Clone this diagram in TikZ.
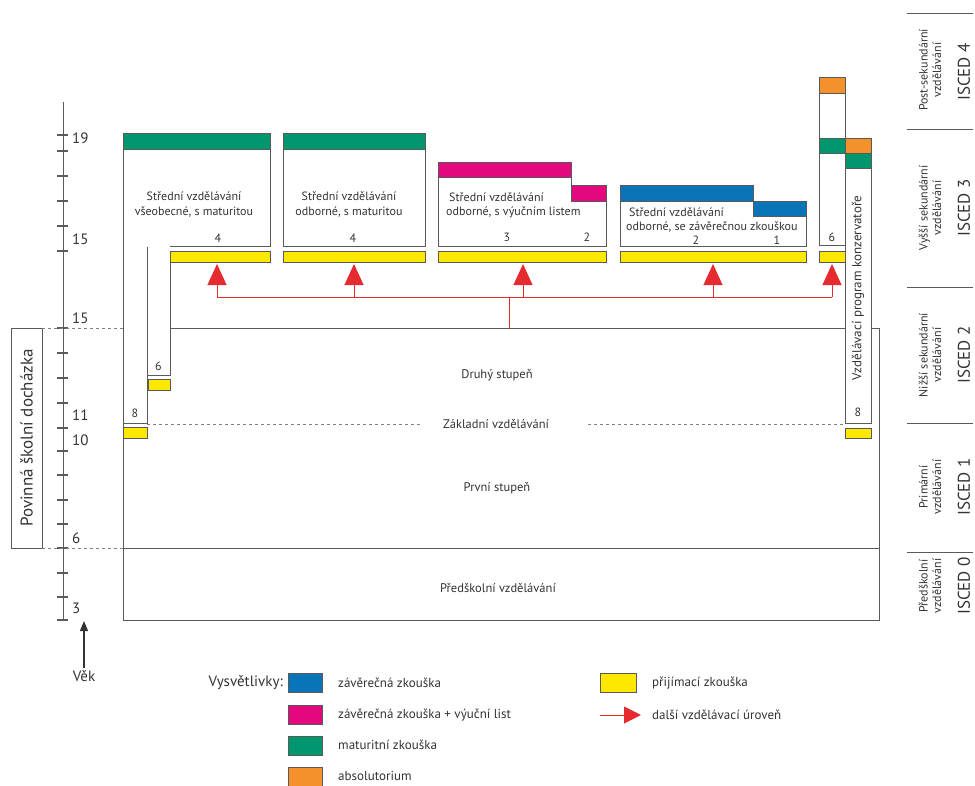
\documentclass[tikz,border=0pt]{standalone}
\usepackage{fontspec}
\setmainfont{PT Sans}
\usetikzlibrary{arrows.meta}
\definecolor{lgray}{HTML}{5A5A5A}
\definecolor{tgray}{HTML}{333333}
\definecolor{cgreen}{HTML}{00976E}
\definecolor{cpink}{HTML}{E4087E}
\definecolor{cblue}{HTML}{0A74B8}
\definecolor{corange}{HTML}{F5912A}
\definecolor{cyellow}{HTML}{FFE800}
\definecolor{cred}{HTML}{E52A30}
\begin{document}
\begin{tikzpicture}[x=1pt,y=-1pt,
  frame/.style={draw=lgray,line width=1pt},
  colbar/.style={draw=black!65,line width=0.6pt},
  dashln/.style={draw=gray,line width=0.7pt,dash pattern=on 3pt off 3pt},
  txt/.style={text=tgray,font=\fontsize{12}{14.5}\selectfont,inner sep=0pt},
  midtxt/.style={text=tgray,font=\fontsize{12.5}{15}\selectfont,inner sep=0pt},
  legtxt/.style={text=tgray,font=\fontsize{13}{15}\selectfont,inner sep=0pt,anchor=west},
  small/.style={text=tgray,font=\fontsize{12}{13.5}\selectfont,inner sep=0pt,align=center},
  big/.style={text=tgray,font=\fontsize{15}{17}\selectfont,inner sep=0pt},
  isced/.style={text=tgray,font=\fontsize{17}{19}\selectfont,inner sep=0pt,rotate=90},
  redline/.style={draw=cred,line width=1pt},
  redarrow/.style={draw=cred,line width=1pt,-{Triangle[width=19pt,length=21pt]}},
  axtick/.style={draw=lgray,line width=1.2pt}
]
\useasboundingbox (0,0) rectangle (975,785);

% ---------- age axis ----------
\coordinate (axtop) at (63,102);
\coordinate (axbot) at (63,620);
\draw[draw=lgray,line width=1pt] (axtop) -- (axbot);
\foreach \t in {135,151,176,201,226,251,328,353,378,403,428,451,475,500,524,548,573,597,620}
  \draw[axtick] (57,\t) -- (68,\t);
\node[big,anchor=west] (a19) at (72,138) {19};
\node[big,anchor=west] (a15a) at (72,239) {15};
\node[big,anchor=west] (a15b) at (72,318) {15};
\node[big,anchor=west] (a11) at (72,415) {11};
\node[big,anchor=west] (a10) at (72,440) {10};
\node[big,anchor=west] (a6) at (72,538) {6};
\node[big,anchor=west] (a3) at (72,608) {3};
\node[big] (vek) at (84,676) {Věk};
\coordinate (vekarr) at (84,621);
\draw[draw=black!80,line width=1.2pt,-{Triangle[width=8pt,length=10pt]}] (vek.north) ++(0,-2) -- (vekarr);

% compulsory schooling
\node[draw=lgray,line width=1pt,minimum width=31pt,minimum height=220pt,inner sep=0pt] (pov) at (26.5,438) {};
\node[text=tgray,inner sep=0pt,rotate=90,font=\fontsize{17}{19}\selectfont] at (pov.center) {Povinná školní docházka};
\draw[dashln] (42,328) -- (123,328);
\draw[dashln] (42,548) -- (123,548);

% ---------- basic school block ----------
\draw[frame] (170,328) -- (879,328) -- (879,620) -- (123,620) -- (123,133);
\draw[frame] (123,548) -- (879,548);
\node[midtxt] (druhy) at (497,375) {Druhý stupeň};
\node[midtxt] (zakl) at (496,424) {Základní vzdělávání};
\node[midtxt] (prvni) at (497,488) {První stupeň};
\node[midtxt] (pred) at (498,588) {Předškolní vzdělávání};
\draw[dashln] (147,424) -- (420,424);
\draw[dashln] (588,424) -- (845,424);

% ---------- general upper secondary (gymnasium) ----------
\draw[frame] (123,133) -- (270,133) -- (270,246) -- (170,246);
\draw[colbar,fill=cgreen] (123,133) rectangle (270,149);
\draw[frame] (170,251) -- (170,375) -- (147,375);
\draw[frame] (147,247) -- (147,423) -- (123,423);
\node[txt] (g8) at (135,413) {8};
\node[txt] (g6) at (158.5,366) {6};
\draw[colbar,fill=cyellow] (123,427) rectangle (147,438);
\draw[colbar,fill=cyellow] (148,379) rectangle (170,390);
\node[txt,align=center] (gtext) at (194,204.5) {Střední vzdělávání\\všeobecné, s maturitou};
\node[txt] (g4) at (218,238) {4};
\draw[colbar,fill=cyellow] (170,251) rectangle (270,262);

% ---------- vocational with maturita ----------
\draw[frame] (283,133) rectangle (425,246);
\draw[colbar,fill=cgreen] (283,133) rectangle (425,149);
\node[txt,align=center] (otext) at (349,204.5) {Střední vzdělávání\\odborné, s maturitou};
\node[txt] (o4) at (353,238) {4};
\draw[colbar,fill=cyellow] (283,251) rectangle (425,262);

% ---------- vocational with apprenticeship certificate ----------
\draw[frame] (438,162) -- (571,162) -- (571,185) -- (606,185) -- (606,246) -- (438,246) -- cycle;
\draw[colbar,fill=cpink] (438,162) rectangle (571,177);
\draw[colbar,fill=cpink] (571,185) rectangle (606,201);
\node[txt,anchor=west] (vtext1) at (449,197) {Střední vzdělávání};
\node[txt,anchor=west] (vtext2) at (446,212) {odborné, s výučním listem};
\node[txt] (v3) at (507,237) {3};
\node[txt] (v2) at (587,237) {2};
\draw[colbar,fill=cyellow] (438,251) rectangle (606,262);

% ---------- vocational with final exam ----------
\draw[frame] (620,185) -- (753,185) -- (753,201) -- (806,201) -- (806,246) -- (620,246) -- cycle;
\draw[colbar,fill=cblue] (620,185) rectangle (753,201);
\draw[colbar,fill=cblue] (753,201) rectangle (806,216);
\node[txt,anchor=west] (ztext1) at (629,212) {Střední vzdělávání};
\node[txt,anchor=west] (ztext2) at (626,226.5) {odborné, se závěrečnou zkouškou};
\node[txt] (z2) at (696,240) {2};
\node[txt] (z1) at (777,240) {1};
\draw[colbar,fill=cyellow] (620,251) rectangle (806,262);

% ---------- conservatory ----------
\draw[frame,fill=white] (819,77) rectangle (845,245);
\draw[colbar,fill=corange] (819,77) rectangle (845,93);
\draw[colbar,fill=cgreen] (819,138) rectangle (845,153);
\node[txt] (k6) at (832,237) {6};
\draw[colbar,fill=cyellow] (819,251) rectangle (845,262);

\draw[frame,fill=white] (845,138) rectangle (871,423);
\draw[colbar,fill=corange] (845,138) rectangle (871,153);
\draw[colbar,fill=cgreen] (845,153) rectangle (871,168);
\node[txt,rotate=90,font=\fontsize{13}{15}\selectfont] (ktext) at (858,288) {Vzdělávací program konzervatoře};
\node[txt] (k8) at (858,412) {8};
\draw[colbar,fill=cyellow] (845,428) rectangle (871,438);

% ---------- red "next level" connectors ----------
\coordinate (r1) at (217,297);
\coordinate (r2) at (354,297);
\coordinate (r3) at (523,297);
\coordinate (r4) at (713,297);
\coordinate (r5) at (832,297);
\coordinate (rs) at (509,297);
\coordinate (rb) at (509,328);
\coordinate (t1) at (217,264);
\coordinate (t2) at (354,264);
\coordinate (t3) at (523,264);
\coordinate (t4) at (713,264);
\coordinate (t5) at (832,264);
\draw[redline] (r1) -- (r5);
\draw[redline] (rb) -- (rs);
\foreach \i in {1,...,5} \draw[redarrow] (r\i) -- (t\i);

% ---------- ISCED column ----------
\foreach \yy in {13,129,287,423,552} \draw[draw=lgray,line width=0.8pt] (907,\yy) -- (973,\yy);
\node[small,rotate=90] (i4a) at (930,70) {Post-sekundární\\vzdělávání};
\node[isced] (i4) at (964,72) {ISCED 4};
\node[small,rotate=90] (i3a) at (930,208) {Vyšší sekundární\\vzdělávání};
\node[isced] (i3) at (964,208) {ISCED 3};
\node[small,rotate=90] (i2a) at (930,355) {Nižší sekundární\\vzdělávání};
\node[isced] (i2) at (964,355) {ISCED 2};
\node[small,rotate=90] (i1a) at (930,487) {Primární\\vzdělávání};
\node[isced] (i1) at (964,487) {ISCED 1};
\node[small,rotate=90] (i0a) at (930,586) {Předškolní\\vzdělávání};
\node[isced] (i0) at (964,586) {ISCED 0};

% ---------- legend ----------
\node[text=tgray,inner sep=0pt,anchor=east,font=\fontsize{15}{17}\selectfont] (leg) at (283,683) {Vysvětlivky:};
\draw[colbar,fill=cblue] (288,673) rectangle (322,692);
\node[legtxt] (l1) at (338,683) {závěrečná zkouška};
\draw[colbar,fill=cpink] (288,705) rectangle (322,724);
\node[legtxt] (l2) at (338,715) {závěrečná zkouška + výuční list};
\draw[colbar,fill=cgreen] (288,736) rectangle (322,755);
\node[legtxt] (l3) at (338,745) {maturitní zkouška};
\draw[colbar,fill=corange] (288,767) rectangle (322,786);
\node[legtxt] (l4) at (338,776) {absolutorium};
\draw[colbar,fill=cyellow] (600,673) rectangle (636,692);
\node[legtxt] (l5) at (652,683) {přijímací zkouška};
\coordinate (la) at (600,715);
\coordinate (lb) at (641,715);
\draw[draw=cred,line width=1pt,-{Triangle[width=17pt,length=17pt]}] (la) -- (lb);
\node[legtxt] (l6) at (652,715) {další vzdělávací úroveň};
\end{tikzpicture}
\end{document}
